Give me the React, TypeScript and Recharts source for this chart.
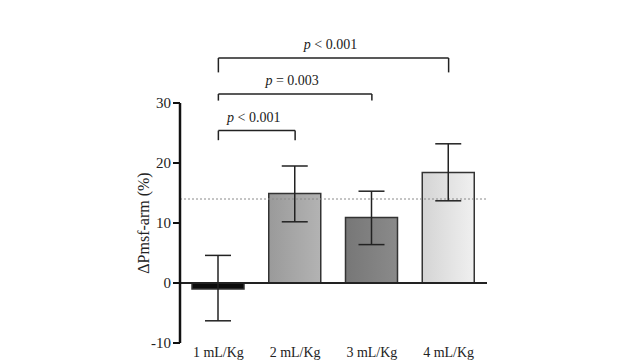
import React from "react";
import {
  BarChart,
  Bar,
  Cell,
  XAxis,
  YAxis,
  ErrorBar,
  ReferenceLine,
} from "recharts";

const doses = ["1 mL/Kg", "2 mL/Kg", "3 mL/Kg", "4 mL/Kg"];
const means = [-1.0, 14.9, 10.9, 18.4];
const lower = [-6.3, 10.2, 6.4, 13.7];
const upper = [4.6, 19.5, 15.3, 23.2];
const yTicks = [-10, 0, 10, 20, 30];
const baselineLevel = 14;
const fills = ["#0b0b0b", "url(#g2)", "url(#g3)", "url(#g4)"];

// brackets: [from, to, bar y, leg end y, p-value text]
const brackets: [number, number, number, number, string][] = [
  [0, 3, 37.5, 35.1, " < 0.001"],
  [0, 2, 31.5, 30.4, " = 0.003"],
  [0, 1, 25.4, 23.8, " < 0.001"],
];

const data = doses.map((dose, i) => ({
  dose,
  value: means[i],
  err: [means[i] - lower[i], upper[i] - means[i]],
}));

const serif = "Liberation Serif";

const pLabel = (rest: string) => (props: any) => {
  const vb = props.viewBox || {};
  const x1 = vb.x ?? Math.min(vb.x1, vb.x2);
  const w = vb.width ?? Math.abs(vb.x2 - vb.x1);
  const y = vb.y ?? Math.min(vb.y1, vb.y2);
  return (
    <text
      x={x1 + w / 2 - 3}
      y={y - 9}
      textAnchor="middle"
      style={{ fontFamily: serif, fontSize: 14 }}
      fill="#1a1a1a"
    >
      <tspan fontStyle="italic">p</tspan>
      {rest}
    </text>
  );
};

const yLabel = (props: any) => {
  const vb = props.viewBox || {};
  const cx = vb.x + 13;
  const cy = vb.y + vb.height / 2;
  return (
    <text
      x={cx}
      y={cy}
      transform={`rotate(-90 ${cx} ${cy})`}
      textAnchor="middle"
      dominantBaseline="central"
      style={{ fontFamily: serif, fontSize: 16 }}
      fill="#222"
    >
      ΔPmsf-arm (%)
    </text>
  );
};

export default function App() {
  return (
    <div
      style={{
        position: "absolute",
        left: 0,
        top: 0,
        background: "#fff",
        fontFamily: serif,
      }}
    >
      <BarChart
        width={640}
        height={360}
        data={data}
        margin={{ top: 103, right: 153, bottom: 0, left: 130 }}
        style={{ fontFamily: serif }}
      >
        <defs>
          <linearGradient id="g2" x1="0" y1="0" x2="1" y2="0">
            <stop offset="0%" stopColor="#9a9a9a" />
            <stop offset="100%" stopColor="#b3b3b3" />
          </linearGradient>
          <linearGradient id="g3" x1="0" y1="0" x2="1" y2="0">
            <stop offset="0%" stopColor="#777" />
            <stop offset="100%" stopColor="#8a8a8a" />
          </linearGradient>
          <linearGradient id="g4" x1="0" y1="0" x2="1" y2="0">
            <stop offset="0%" stopColor="#d4d4d4" />
            <stop offset="100%" stopColor="#f0f0f0" />
          </linearGradient>
        </defs>
        <XAxis
          dataKey="dose"
          height={17}
          axisLine={false}
          tickLine={false}
          tickSize={2}
          tickMargin={2}
          interval={0}
          tick={{ fontSize: 14, fill: "#222", style: { fontFamily: serif } }}
        />
        <YAxis
          width={50}
          domain={[-10, 30]}
          ticks={yTicks}
          allowDataOverflow
          axisLine={{ stroke: "#111", strokeWidth: 2.5 }}
          tickLine={{ stroke: "#111", strokeWidth: 2 }}
          tickSize={7}
          tickMargin={2}
          tick={{ fontSize: 15, fill: "#222", style: { fontFamily: serif } }}
          label={{ content: yLabel }}
        />
        <ReferenceLine
          y={baselineLevel}
          stroke="#8a8a8a"
          strokeDasharray="2 2"
          strokeWidth={1}
        />
        <Bar
          dataKey="value"
          barSize={52}
          stroke="#333"
          strokeWidth={1.5}
          isAnimationActive={false}
        >
          {data.map((d, i) => (
            <Cell key={d.dose} fill={fills[i]} />
          ))}
          <ErrorBar
            dataKey="err"
            width={13}
            stroke="#222"
            strokeWidth={1.5}
            isAnimationActive={false}
          />
        </Bar>
        <ReferenceLine y={0} stroke="#222" strokeWidth={2} />
        {brackets.map(([a, b, top, leg, txt], i) => [
          <ReferenceLine
            key={`h${i}`}
            ifOverflow="visible"
            segment={[
              { x: doses[a], y: top },
              { x: doses[b], y: top },
            ]}
            stroke="#222"
            strokeWidth={1.5}
            label={pLabel(txt)}
          />,
          <ReferenceLine
            key={`l${i}`}
            ifOverflow="visible"
            segment={[
              { x: doses[a], y: top },
              { x: doses[a], y: leg },
            ]}
            stroke="#222"
            strokeWidth={1.5}
          />,
          <ReferenceLine
            key={`r${i}`}
            ifOverflow="visible"
            segment={[
              { x: doses[b], y: top },
              { x: doses[b], y: leg },
            ]}
            stroke="#222"
            strokeWidth={1.5}
          />,
        ])}
      </BarChart>
    </div>
  );
}
